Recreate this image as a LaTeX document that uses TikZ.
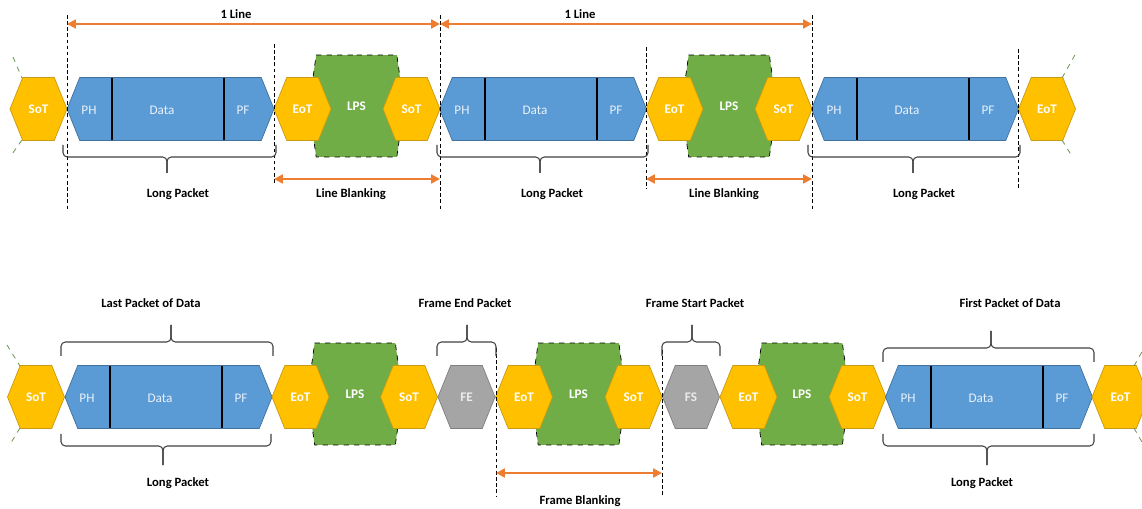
\documentclass[tikz,border=0pt]{standalone}
\usepackage{fontspec}
\setmainfont{Carlito}
\usetikzlibrary{shapes.symbols,arrows.meta}

\definecolor{yfill}{HTML}{FFC000}
\definecolor{yline}{HTML}{C99A12}
\definecolor{bfill}{HTML}{5B9BD5}
\definecolor{bline}{HTML}{41719C}
\definecolor{gfill}{HTML}{70AD47}
\definecolor{gline}{HTML}{548235}
\definecolor{pfill}{HTML}{A5A5A5}
\definecolor{pline}{HTML}{7F7F7F}
\definecolor{arrorange}{HTML}{ED7D31}
\definecolor{bracegray}{HTML}{404040}

\begin{document}
\begin{tikzpicture}[x=0.02cm, y=-0.02cm,
                    hexa/.style={signal, signal to=east and west, signal pointer angle=136,
                                 minimum width=1.14cm, minimum height=1.26cm, inner sep=0pt,
                                 text=white, font=\fontsize{7.5}{8}\selectfont\bfseries},
                    yhex/.style={hexa, fill=yfill, draw=yline},
                    phex/.style={hexa, fill=pfill, draw=pline, text=white!92!black},
                    packet/.style={hexa, fill=bfill, draw=bline, minimum width=4.14cm},
                    lps/.style={hexa, fill=gfill, draw=black, dashed, signal pointer angle=164,
                                minimum width=1.9cm, minimum height=2.04cm},
                    field/.style={text=white!85!bfill, font=\fontsize{7.5}{8}\selectfont},
                    caption/.style={font=\fontsize{7.2}{8}\selectfont\bfseries, text=black},
                    guideline/.style={draw=black, dash pattern=on 2pt off 1.5pt, line width=0.5pt},
                    span/.style={draw=arrorange, line width=1.4pt, {Triangle[length=5pt,width=5pt]}-{Triangle[length=5pt,width=5pt]}},
                    bracket/.style={draw=bracegray, line width=0.6pt, rounded corners=2.5pt},
                    hint/.style={draw=gline!80, dashed, line width=0.5pt}
                ]
\useasboundingbox (0,0) rectangle (1142,509);

% ---------- row 1 ----------
% LPS behind the SoT/EoT
\node[lps] (lpsA) at (356.5,106) {LPS};
\node[lps] (lpsB) at (729,106) {LPS};

\node[yhex] (sotA) at (38.5,109) {SoT};
\node[packet] (pkA) at (170.5,109) {};
\node[yhex] (eotA) at (302.5,109) {EoT};
\node[yhex] (sotB) at (411.5,109) {SoT};
\node[packet] (pkB) at (543,109) {};
\node[yhex] (eotB) at (674.5,109) {EoT};
\node[yhex] (sotC) at (783.5,109) {SoT};
\node[packet] (pkC) at (915,109) {};
\node[yhex] (eotC) at (1047,109) {EoT};

% packet fields
\foreach \l/\n in {67/A, 440/B, 812/C} {
  \draw[black, line width=0.6pt] (\l+45,78) -- (\l+45,140);
  \draw[black, line width=0.6pt] (\l+157,78) -- (\l+157,140);
  \node[field] (ph\n) at (\l+22,110) {PH};
  \node[field] (data\n) at (\l+95,110) {Data};
  \node[field] (pf\n) at (\l+176,110) {PF};
}

% green hints at the edges
\draw[hint] (13,57) -- (22,78);
\draw[hint] (22,140) -- (10,157);
\draw[hint] (1062,78) -- (1076,53);
\draw[hint] (1062,140) -- (1073,158);

% markers
\coordinate (m1t) at (67,15);    \coordinate (m1b) at (67,210);
\coordinate (m2t) at (274,44);   \coordinate (m2b) at (274,185);
\coordinate (m3t) at (440,15);   \coordinate (m3b) at (440,210);
\coordinate (m4t) at (646,47);   \coordinate (m4b) at (646,189);
\coordinate (m5t) at (812,15);   \coordinate (m5b) at (812,210);
\coordinate (m6t) at (1018,49);  \coordinate (m6b) at (1018,190);
\foreach \i in {1,...,6}
  \draw[guideline] (m\i t) -- (m\i b);

% spans
\coordinate (l1a) at (67,24);   \coordinate (l1b) at (440,24);
\coordinate (l2a) at (440,24);  \coordinate (l2b) at (812,24);
\coordinate (lb1a) at (274,179); \coordinate (lb1b) at (440,179);
\coordinate (lb2a) at (646,179); \coordinate (lb2b) at (812,179);
\draw[span] (l1a) -- (l1b);
\draw[span] (l2a) -- (l2b);
\draw[span] (lb1a) -- (lb1b);
\draw[span] (lb2a) -- (lb2b);
\node[caption] (line1) at (236,14) {1 Line};
\node[caption] (line2) at (580,14) {1 Line};
\node[caption] (blank1) at (351,194) {Line Blanking};
\node[caption] (blank2) at (724,194) {Line Blanking};

% braces under the packets
\foreach \a/\b/\t in {63/276/167, 437/648/540, 808/1020/913} {
  \draw[bracket] (\a,145) -- (\a,157) -- (\t,157) -- (\t,173);
  \draw[bracket] (\b,145) -- (\b,157) -- (\t,157) -- (\t,173);
}
\node[caption] (lpA) at (178,194) {Long Packet};
\node[caption] (lpB) at (552,194) {Long Packet};
\node[caption] (lpC) at (924,194) {Long Packet};

% ---------- row 2 ----------
\node[lps] (lpsC) at (355,394) {LPS};
\node[lps] (lpsD) at (578.5,394) {LPS};
\node[lps] (lpsE) at (802,394) {LPS};

\node[yhex] (sotD) at (36,397) {SoT};
\node[packet] (pkD) at (168.5,397) {};
\node[yhex] (eotD) at (300.5,397) {EoT};
\node[yhex] (sotE) at (409,397) {SoT};
\node[phex] (fe) at (466.5,397) {FE};
\node[yhex] (eotE) at (524,397) {EoT};
\node[yhex] (sotF) at (633.5,397) {SoT};
\node[phex] (fs) at (691,397) {FS};
\node[yhex] (eotF) at (748.5,397) {EoT};
\node[yhex] (sotG) at (857.5,397) {SoT};
\node[packet] (pkE) at (989,397) {};
\node[yhex] (eotG) at (1120.5,397) {EoT};

\foreach \l/\n in {65/D, 886/E} {
  \draw[black, line width=0.6pt] (\l+45,366) -- (\l+45,428);
  \draw[black, line width=0.6pt] (\l+157,366) -- (\l+157,428);
  \node[field] (ph\n) at (\l+22,398) {PH};
  \node[field] (data\n) at (\l+95,398) {Data};
  \node[field] (pf\n) at (\l+176,398) {PF};
}

\draw[hint] (7,345) -- (20,366);
\draw[hint] (20,428) -- (9,446);
\draw[hint] (1134,366) -- (1143,350);
\draw[hint] (1134,428) -- (1143,444);

% frame blanking
\coordinate (m7t) at (496,348);  \coordinate (m7b) at (496,497);
\coordinate (m8t) at (662,350);  \coordinate (m8b) at (662,497);
\draw[guideline] (m7t) -- (m7b);
\draw[guideline] (m8t) -- (m8b);
\coordinate (fba) at (496,473);  \coordinate (fbb) at (662,473);
\draw[span] (fba) -- (fbb);
\node[caption] (fblank) at (580,501) {Frame Blanking};

% braces above
\foreach \a/\b/\t/\y in {61/273/171/342, 437/496/467/342, 662/720/692/342, 883/1094/991/348} {
  \draw[bracket] (\a,\y+14) -- (\a,\y) -- (\t,\y) -- (\t,\y-17);
  \draw[bracket] (\b,\y+14) -- (\b,\y) -- (\t,\y) -- (\t,\y-17);
}
\node[caption] (lastpk) at (151,303) {Last Packet of Data};
\node[caption] (fepk) at (465,303) {Frame End Packet};
\node[caption] (fspk) at (695,303) {Frame Start Packet};
\node[caption] (firstpk) at (1010,303) {First Packet of Data};

% braces below
\foreach \a/\b/\t in {61/271/163, 883/1094/987} {
  \draw[bracket] (\a,434) -- (\a,446) -- (\t,446) -- (\t,465);
  \draw[bracket] (\b,434) -- (\b,446) -- (\t,446) -- (\t,465);
}
\node[caption] (lpD) at (178,483) {Long Packet};
\node[caption] (lpE) at (982,483) {Long Packet};

\end{tikzpicture}
\end{document}
